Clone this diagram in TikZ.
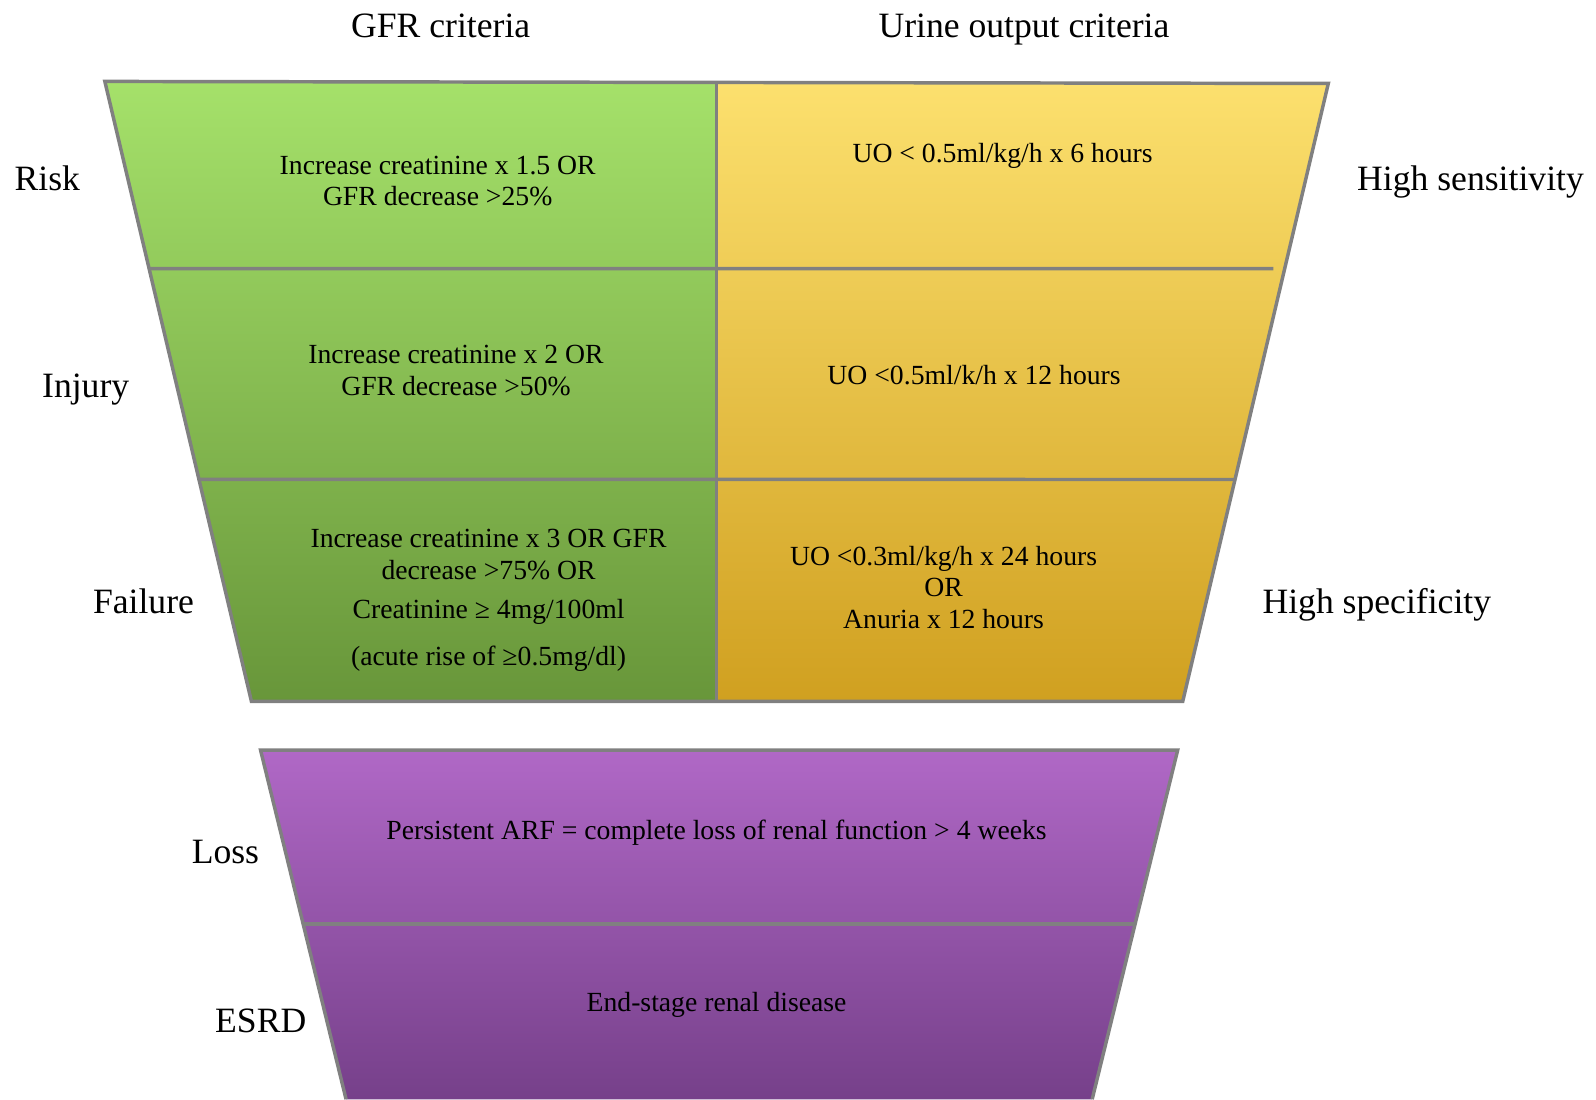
\documentclass[tikz,border=0pt]{standalone}
\usepackage{fontspec}
\setmainfont{Liberation Serif}
\usetikzlibrary{calc}

\definecolor{framegray}{RGB}{128,128,128}
\definecolor{greentop}{RGB}{165,225,106}
\definecolor{greenmid}{RGB}{124,196,76}
\definecolor{greenbot}{RGB}{104,150,58}
\definecolor{yellowtop}{RGB}{252,224,110}
\definecolor{yellowmid}{RGB}{238,202,52}
\definecolor{yellowbot}{RGB}{208,160,32}
\definecolor{purpletop}{RGB}{176,104,198}
\definecolor{purplemid}{RGB}{138,78,156}
\definecolor{purplebot}{RGB}{118,64,138}

\newcommand\sidefont{\fontsize{17.5}{21}\selectfont}
\newcommand\critfont{\fontsize{13.6}{15.5}\selectfont}

\tikzstyle{rimline}=[draw=framegray, line width=1.7pt]
\tikzstyle{headtext}=[font=\sidefont, text height=0.7em, text depth=0.2em, inner sep=0pt]
\tikzstyle{sidetext}=[headtext, anchor=west]
\tikzstyle{crit}=[font=\critfont, align=center, inner sep=0pt]

\begin{document}
\begin{tikzpicture}[x=0.5pt, y=-0.5pt]
	% Background, frame
	\fill[white] (0,0) rectangle (1568,1080);
	\useasboundingbox (0,0) rectangle (1568,1080);

	% Corners of the upper trapezoid
	\coordinate (tl) at (103,80);
	\coordinate (tm) at (704,81);
	\coordinate (tr) at (1305,82);
	\coordinate (bl) at (247,689);
	\coordinate (bm) at (704,689);
	\coordinate (br) at (1162,689);

	% Corners of the lower trapezoid
	\coordinate (ltl) at (256,737);
	\coordinate (ltr) at (1157,737);
	\coordinate (lbl) at (340,1080);
	\coordinate (lbr) at (1073,1080);

	% Fills
	\shade[top color=greentop, middle color=greenmid, bottom color=greenbot]
		(tl) -- (tm) -- (bm) -- (bl) -- cycle;
	\shade[top color=yellowtop, middle color=yellowmid, bottom color=yellowbot]
		(tm) -- (tr) -- (br) -- (bm) -- cycle;
	\shade[top color=purpletop, middle color=purplemid, bottom color=purplebot]
		(ltl) -- (ltr) -- (lbr) -- (lbl) -- cycle;

	% Lines
	\draw[rimline] (tl) -- (tr) -- (br) -- (bl) -- cycle;
	\draw[rimline] (tm) -- (bm);
	\draw[rimline] ($(tl)!0.302!(bl)$) -- (1251,264);
	\draw[rimline] ($(tl)!0.642!(bl)$) -- ($(tr)!0.641!(br)$);
	\draw[rimline] (lbl) -- (ltl) -- (ltr) -- (lbr);
	\draw[rimline] ($(ltl)!0.4985!(lbl)$) -- ($(ltr)!0.4985!(lbr)$);

	% Headings
	\node[headtext] (gfrhead) at (433,32) {GFR criteria};
	\node[headtext] (uohead) at (1006,32) {Urine output criteria};

	% Side labels
	\foreach \name/\x/\y/\txt in {risk/14/182/Risk, injury/41/386/Injury,
		failure/91/598/Failure, loss/188/843/Loss, esrd/211/1009/ESRD,
		sens/1333/182/High sensitivity, spec/1240/598/High specificity} {
		\node[sidetext] (\name) at (\x,\y) {\txt};
	}

	% Criteria
	\node[crit] (gfrrisk) at (430,178) {Increase creatinine x 1.5 OR\\ GFR decrease >25\%};
	\node[crit] (gfrinjury) at (448,364) {Increase creatinine x 2 OR\\ GFR decrease >50\%};
	\node[crit] (gfrfailure) at (480,590) {Increase creatinine x 3 OR GFR\\ decrease >75\% OR\\[4pt]
		Creatinine ≥ 4mg/100ml\\[7.5pt] (acute rise of ≥0.5mg/dl)};
	\node[crit] (uorisk) at (985,153) {UO < 0.5ml/kg/h x 6 hours};
	\node[crit] (uoinjury) at (957,369) {UO <0.5ml/k/h x 12 hours};
	\node[crit] (uofailure) at (927,577) {UO <0.3ml/kg/h x 24 hours\\ OR\\ Anuria x 12 hours};
	\node[crit] (lossdef) at (704,818) {Persistent ARF = complete loss of renal function > 4 weeks};
	\node[crit] (esrddef) at (704,987) {End-stage renal disease};

\end{tikzpicture}
\end{document}
